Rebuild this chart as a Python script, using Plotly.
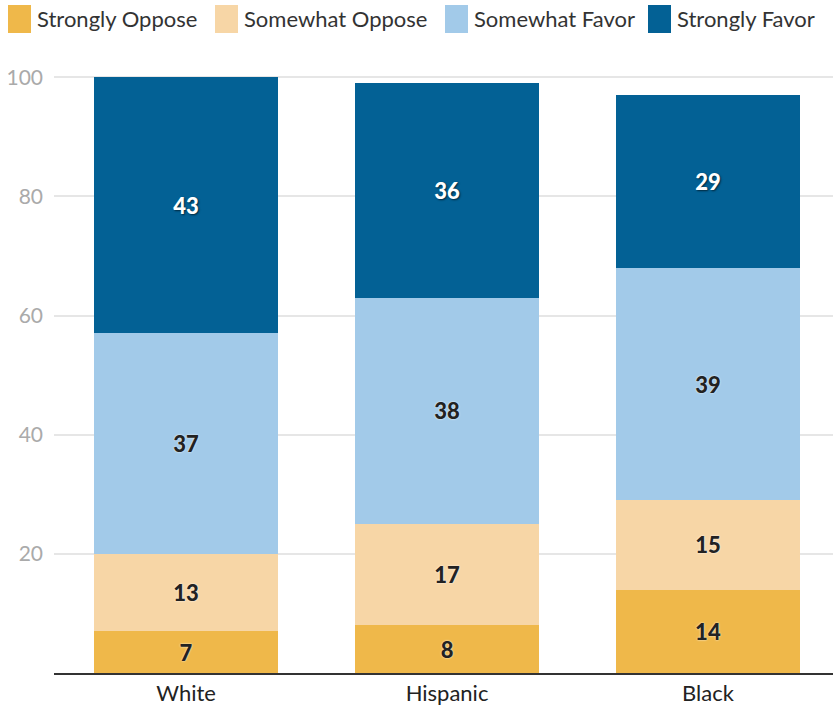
import plotly.graph_objects as go

categories = ["White", "Hispanic", "Black"]
series_names = ["Strongly Oppose", "Somewhat Oppose", "Somewhat Favor", "Strongly Favor"]
strongly_oppose = [7, 8, 14]
somewhat_oppose = [13, 17, 15]
somewhat_favor = [37, 38, 39]
strongly_favor = [43, 36, 29]
y_ticks = [20, 40, 60, 80, 100]

series_values = [strongly_oppose, somewhat_oppose, somewhat_favor, strongly_favor]
colors = ["#EFB84A", "#F7D6A6", "#A2CAE9", "#036195"]
text_colors = ["#222222", "#222222", "#222222", "#FFFFFF"]
shadows = ["0px 0px 2px #ffffff", "0px 0px 2px #ffffff", "0px 0px 2px #ffffff", "1px 1px 2px rgba(0,0,0,0.6)"]

FONT = "Lato, 'Open Sans', sans-serif"
W, H = 833, 705
ML, MR, MT, MB = 54, 0, 76, 32
PW = W - ML - MR
PH = H - MT - MB

fig = go.Figure()
for name, vals, col, tc, sh in zip(series_names, series_values, colors, text_colors, shadows):
    fig.add_trace(go.Bar(
        name=name, x=categories, y=vals, marker=dict(color=col, line=dict(width=0)),
        text=vals, texttemplate="%{text}", textposition="inside",
        insidetextanchor="middle", textangle=0,
        textfont=dict(family=FONT, size=22, color=tc, shadow=sh, weight=900),
        width=0.705, hoverinfo="skip", showlegend=False,
    ))

# Custom legend (large square swatches) in pixel positions converted to paper coords
legend_swatch_px = [8, 215, 445, 648]
def px_x(px):
    return (px - ML) / PW
def px_y(py):
    return 1 + (MT - py) / PH

shapes = []
annotations = []
for name, col, sx in zip(series_names, colors, legend_swatch_px):
    shapes.append(dict(type="rect", xref="paper", yref="paper",
                       x0=px_x(sx), x1=px_x(sx + 23), y0=px_y(33), y1=px_y(5),
                       fillcolor=col, line=dict(width=0), layer="above"))
    annotations.append(dict(xref="paper", yref="paper", x=px_x(sx + 27), y=px_y(19),
                            xanchor="left", yanchor="middle", text=name, showarrow=False,
                            font=dict(family=FONT, size=22, color="#333333")))

fig.update_layout(
    barmode="stack",
    width=W, height=H,
    margin=dict(l=ML, r=MR, t=MT, b=MB, autoexpand=False),
    paper_bgcolor="white", plot_bgcolor="white",
    font=dict(family=FONT, size=21, color="#222222"),
    showlegend=False,
    shapes=shapes, annotations=annotations,
    uniformtext=dict(minsize=10, mode="show"),
)
fig.update_xaxes(range=[-0.506, 2.479], showline=True, linecolor="#333333", linewidth=1.5,
                 ticks="", tickfont=dict(size=22, color="#222222"), showgrid=False,
                 ticklabelstandoff=0, automargin=False)
fig.update_yaxes(range=[0, 100.2], tickvals=y_ticks, showgrid=True, gridcolor="#e6e6e6",
                 gridwidth=1.5, zeroline=False, ticks="", tickfont=dict(size=21, color="#aaaaaa"),
                 ticklabelstandoff=10, automargin=False)

fig.write_html("out.html")
